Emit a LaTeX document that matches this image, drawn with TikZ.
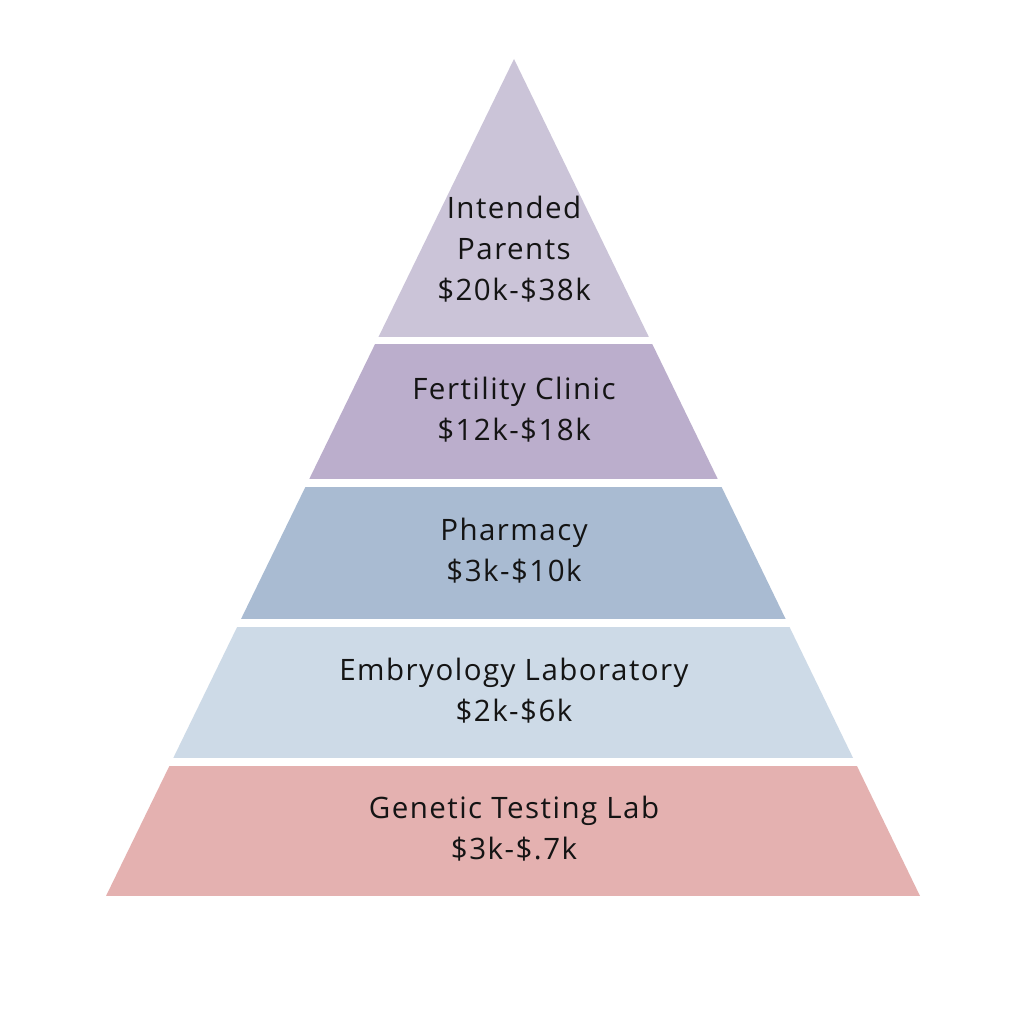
\documentclass[tikz,border=0pt]{standalone}
\usepackage{fontspec}
\setmainfont{Open Sans}[Ligatures=NoCommon,LetterSpace=5]
\usetikzlibrary{calc,positioning}
\usepackage{xcolor}
\definecolor{toptier}{HTML}{CBC4D8}
\definecolor{clinictier}{HTML}{BBAECC}
\definecolor{pharmtier}{HTML}{A9BBD2}
\definecolor{embtier}{HTML}{CDDAE7}
\definecolor{genetier}{HTML}{E4B1B0}
\colorlet{textdark}{black!92}
\newcommand{\lblsize}{\fontsize{29.5}{41}\selectfont}
\tikzset{
    lblsty/.style={align=center,text=textdark,font=\lblsize,inner sep=0pt},
    tiersty/.style={fill=#1,draw=none},
}
\begin{document}
\begin{tikzpicture}[x=1pt,y=-1pt]
\useasboundingbox[fill=white] (0,0) rectangle (1024,1024);
\coordinate (apex) at (514,59);
\coordinate (bl) at (106,896);
\coordinate (br) at (920,896);

% tiers, cut from one triangle
\foreach \ytop/\ybot/\col in {0/337/toptier, 344/479/clinictier, 487/619/pharmtier, 627/758/embtier, 766/896/genetier}
{
  \begin{scope}
    \clip (apex) -- (bl) -- (br) -- cycle;
    \fill[tiersty=\col] (0,\ytop) rectangle (1024,\ybot);
  \end{scope}
}

\node[lblsty] (parents) at (514,249) {Intended\\Parents\\\$20k-\$38k};
\node[lblsty] (clinic) at (514,410) {Fertility Clinic\\\$12k-\$18k};
\node[lblsty] (pharmacy) at (514,551) {Pharmacy\\\$3k-\$10k};
\node[lblsty] (embryo) at (514,691) {Embryology Laboratory\\\$2k-\$6k};
\node[lblsty] (genetic) at (514,829) {Genetic Testing Lab\\\$3k-\$.7k};
\end{tikzpicture}
\end{document}
